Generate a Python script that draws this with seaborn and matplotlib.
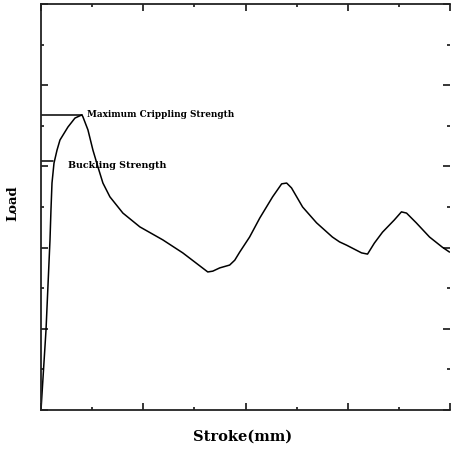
import matplotlib
matplotlib.use("Agg")
import matplotlib.pyplot as plt
from matplotlib.ticker import MultipleLocator, NullFormatter
import seaborn as sns
import pandas as pd

# Stroke (mm) and Load readings (arbitrary units)
stroke = [0.0, 0.098, 0.176, 0.195, 0.215, 0.254, 0.313, 0.371, 0.527, 0.664, 0.80,
          0.82, 0.918, 1.016, 1.113, 1.211, 1.348, 1.602, 1.934, 2.383, 2.773,
          3.262, 3.36, 3.496, 3.69, 3.79, 3.887, 4.08, 4.28, 4.53, 4.707, 4.805,
          4.90, 5.117, 5.39, 5.70, 5.84, 5.977, 6.27, 6.387, 6.52, 6.68, 6.91,
          7.05, 7.15, 7.34, 7.60, 7.85, 7.99]
load = [0.0, 1.97, 4.19, 4.93, 5.59, 6.08, 6.40, 6.65, 6.97, 7.19, 7.27,
        7.22, 6.90, 6.40, 5.99, 5.59, 5.25, 4.85, 4.51, 4.19, 3.87,
        3.40, 3.42, 3.50, 3.57, 3.69, 3.89, 4.26, 4.73, 5.25, 5.57, 5.59,
        5.47, 5.00, 4.61, 4.26, 4.14, 4.06, 3.87, 3.84, 4.11, 4.38, 4.68,
        4.88, 4.85, 4.61, 4.26, 4.01, 3.89]

max_crippling = 7.27
max_crippling_stroke = 0.80
buckling = 6.13
buckling_stroke = 0.234

sns.set_style("ticks")
plt.rcParams['font.family'] = ['DejaVu Serif', 'Liberation Serif']
plt.rcParams['text.color'] = 'black'

fig = plt.figure(figsize=(4.51, 4.49), dpi=100)
ax = fig.add_axes([41/451, 1-410/449, 409/451, 406/449])

df = pd.DataFrame({"Stroke": stroke, "Load": load})
sns.lineplot(data=df, x="Stroke", y="Load", ax=ax, color="black", linewidth=1.1,
             estimator=None, sort=False)

ax.plot([0, max_crippling_stroke], [max_crippling, max_crippling], color="black", linewidth=1.1)
ax.plot([0, buckling_stroke], [buckling, buckling], color="black", linewidth=1.1)

ax.text(0.898, max_crippling, "Maximum Crippling Strength", fontsize=6.4,
        fontweight="bold", va="center", ha="left", color="black")
ax.text(0.52, buckling - 0.1, "Buckling Strength", fontsize=6.8,
        fontweight="bold", va="center", ha="left", color="black")

ax.set_xlim(0, 8)
ax.set_ylim(0, 10)
ax.xaxis.set_major_locator(MultipleLocator(2))
ax.xaxis.set_minor_locator(MultipleLocator(1))
ax.yaxis.set_major_locator(MultipleLocator(2))
ax.yaxis.set_minor_locator(MultipleLocator(1))
ax.xaxis.set_major_formatter(NullFormatter())
ax.yaxis.set_major_formatter(NullFormatter())
ax.tick_params(which="both", direction="in", top=True, right=True, color="black")
ax.tick_params(which="major", length=5, width=1.1)
ax.tick_params(which="minor", length=2.5, width=1.1)
for s in ax.spines.values():
    s.set_color("#222222")
    s.set_linewidth(1.3)
ax.spines["right"].set_visible(False)

ax.set_xlabel("")
ax.set_ylabel("")
fig.text(243/451, 1-437/449, "Stroke(mm)", fontsize=10.5, fontweight="bold",
         ha="center", va="center", color="black")
fig.text(13/451, 1-203/449, "Load", fontsize=9.5, fontweight="bold",
         ha="center", va="center", rotation=90, color="black")

fig.savefig("out.png", dpi=100)
